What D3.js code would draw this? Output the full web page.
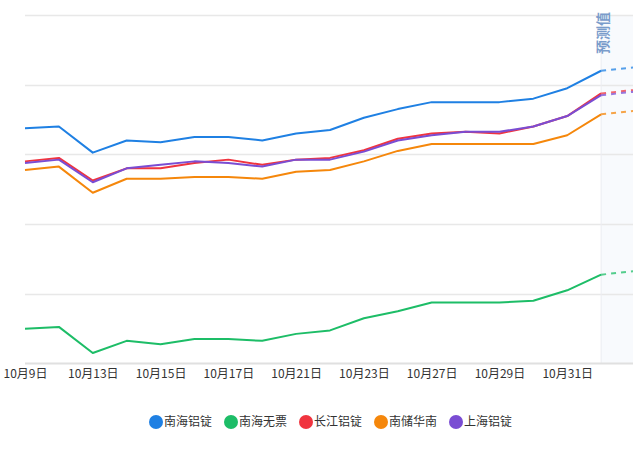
<!DOCTYPE html>
<html><head><meta charset="utf-8">
<script src="https://cdn.jsdelivr.net/npm/d3@7"></script>
<style>
html,body{margin:0;padding:0;background:#fff;}
svg{display:block;font-family:"Noto Sans CJK SC","Noto Sans",sans-serif;}
</style></head>
<body>
<svg id="c" width="633" height="450"></svg>
<script>
const dates = ["10月9日","10月10日","10月13日","10月14日","10月15日","10月16日","10月17日","10月20日","10月21日","10月22日","10月23日","10月24日","10月27日","10月28日","10月29日","10月30日","10月31日","11月3日","11月4日"];
const forecastIndex = 17; // last actual point; the next one is forecast
const seriesNames = ["南海铝锭","南海无票","长江铝锭","南储华南","上海铝锭"];
const nanhaiIngot = [20675,20680,20605,20640,20635,20650,20650,20640,20660,20670,20705,20730,20750,20750,20750,20760,20790,20840,20850];
const nanhaiNoInvoice = [20100,20105,20030,20065,20055,20070,20070,20065,20085,20095,20130,20150,20175,20175,20175,20180,20210,20255,20265];
const changjiang = [20580,20590,20525,20560,20560,20575,20585,20570,20585,20590,20612,20645,20660,20665,20660,20680,20710,20775,20785];
const nanchuSouth = [20555,20565,20490,20530,20530,20535,20535,20530,20550,20555,20580,20610,20630,20630,20630,20630,20655,20715,20725];
const shanghai = [20575,20585,20520,20560,20570,20580,20575,20565,20585,20585,20608,20640,20655,20665,20665,20680,20710,20770,20780];
const yTicks = [20000,20200,20400,20600,20800,21000];
const colors = ["#1f80e3","#1dbd67","#f0343f","#f5870b","#7a4dd3"];

const allSeries = [nanhaiIngot,nanhaiNoInvoice,changjiang,nanchuSouth,shanghai];
const svg = d3.select("#c");
const x = d3.scalePoint().domain(dates).range([25,635]);
const y = d3.scaleLinear().domain([20000,21000]).range([363.5,15]);

// forecast area
const fx = x(dates[forecastIndex]);
svg.append("rect").attr("x",fx).attr("y",15).attr("width",633-fx).attr("height",363.5-15).attr("fill","#f8fafd");

// grid lines
svg.append("g").selectAll("line").data(yTicks.slice(1)).join("line")
  .attr("x1",25).attr("x2",633).attr("y1",d=>Math.round(y(d))+0.5).attr("y2",d=>Math.round(y(d))+0.5)
  .attr("stroke","#e8e8e8").attr("stroke-width",1.5);
svg.append("line").attr("x1",fx).attr("x2",fx).attr("y1",15).attr("y2",363.5).attr("stroke","#eceef2").attr("stroke-width",1);
// x axis line
svg.append("line").attr("x1",25).attr("x2",633).attr("y1",363.5).attr("y2",363.5).attr("stroke","#e0e0e0").attr("stroke-width",2);

// x labels
const xa = d3.axisBottom(x).tickSize(0).tickPadding(0)
  .tickValues(dates.filter((d,i)=>i%2===0 && i<forecastIndex));
const gx = svg.append("g").attr("transform","translate(0,369)").call(xa);
gx.select(".domain").remove();
gx.selectAll("text").attr("dy","0.71em").attr("fill","#333").style("font-size","12px")
  .style("font-family","'Noto Sans CJK SC',sans-serif");

// forecast label
svg.append("text").attr("transform",`translate(${fx+7},12) rotate(-90)`)
  .attr("text-anchor","end").attr("fill","#7a9ccb").style("font-size","14px").style("font-weight","bold")
  .text("预测值");

// lines
allSeries.forEach((s,k)=>{
  const actual = s.map((v,i)=>({v,i})).filter(p=>p.i<=forecastIndex);
  const fc = s.map((v,i)=>({v,i})).filter(p=>p.i>=forecastIndex);
  const ln = d3.line().x(p=>x(dates[p.i])).y(p=>y(p.v));
  svg.append("path").attr("d",ln(actual)).attr("fill","none").attr("stroke",colors[k])
    .attr("stroke-width",2).attr("stroke-linejoin","round");
  svg.append("path").attr("d",ln(fc)).attr("fill","none").attr("stroke",colors[k]).attr("stroke-opacity",0.75)
    .attr("stroke-width",2).attr("stroke-dasharray","5,5");
});

// legend
const lg = svg.append("g");
seriesNames.forEach((n,k)=>{
  const lx = 149 + k*75;
  lg.append("circle").attr("cx",lx+7).attr("cy",422).attr("r",7).attr("fill",colors[k]);
  lg.append("text").attr("x",lx+15).attr("y",422).attr("dy","0.35em").attr("fill","#333")
    .style("font-size","12px").text(n);
});
</script>
</body></html>
